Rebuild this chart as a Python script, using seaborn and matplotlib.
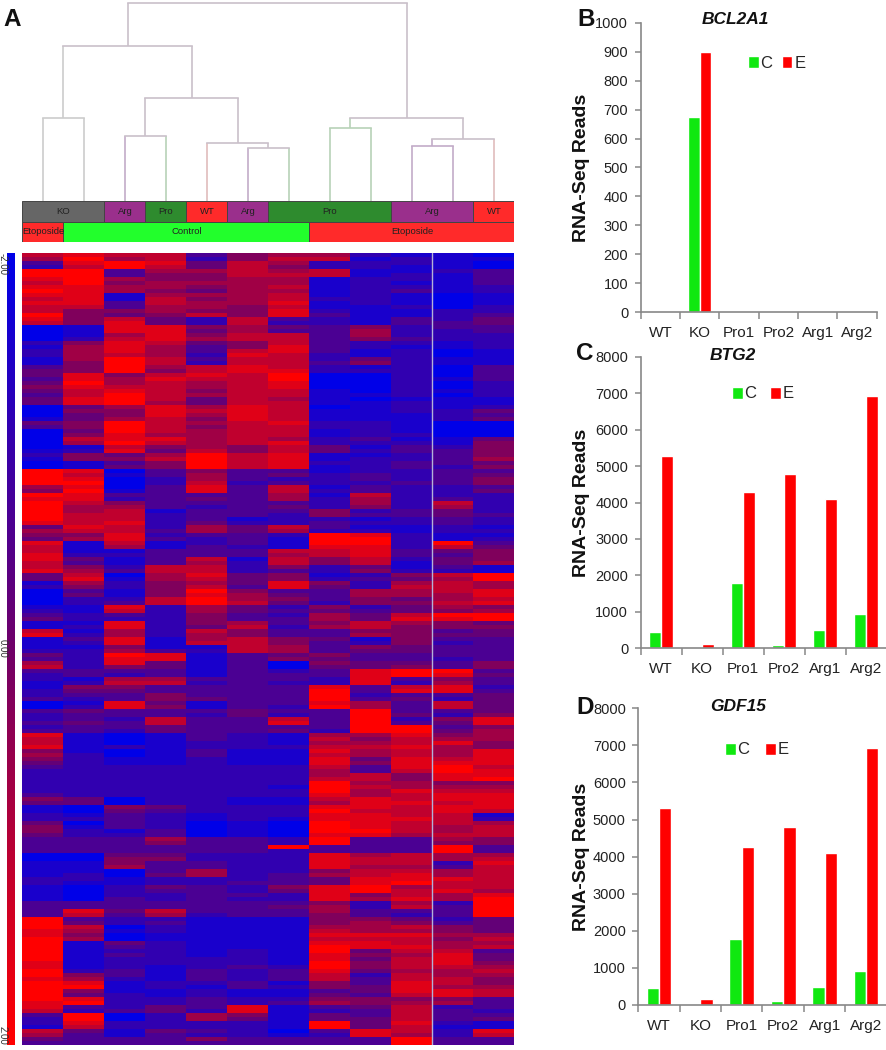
import numpy as np
import pandas as pd
import matplotlib
matplotlib.use("Agg")
import matplotlib.pyplot as plt
from matplotlib.colors import LinearSegmentedColormap
import seaborn as sns

W, H = 887, 1050
sns.set_theme(style="white")
plt.rcParams['font.family'] = ['Liberation Sans', 'DejaVu Sans']

# ---- data ----
samples = ["WT", "KO", "Pro1", "Pro2", "Arg1", "Arg2"]
bcl2a1_c = [0, 675, 0, 0, 0, 0]
bcl2a1_e = [0, 900, 0, 0, 0, 0]
btg2_c = [440, 0, 1780, 100, 510, 940]
btg2_e = [5280, 130, 4290, 4780, 4090, 6920]
gdf15_c = [470, 0, 1790, 100, 490, 930]
gdf15_e = [5300, 150, 4250, 4800, 4110, 6940]

genotype_names = ["KO", "Arg", "Pro", "WT", "Arg", "Pro", "Arg", "WT"]
genotype_spans = [2, 1, 1, 1, 1, 3, 2, 1]
treatment_names = ["Etoposide", "Control", "Etoposide"]
treatment_spans = [1, 6, 5]

# dendrogram merges: (left, right, height); ids >= 12 are earlier merges
merges = [(0, 1, 83), (2, 3, 65), (5, 6, 53), (4, 14, 58), (13, 15, 103),
          (12, 16, 155), (7, 8, 73), (9, 10, 55), (19, 11, 62), (18, 20, 83),
          (17, 21, 198)]
leaf_groups = ["KO", "KO", "Arg", "Pro", "WT", "Arg", "Pro", "Pro", "Pro", "Arg", "Arg", "WT"]

# expression levels per gene row (0 = -2.00 ... 9 = +2.00), 12 samples
heat_rows = [
    "787735662110", "696725771211", "389847622210", "279747522110", "993667671123", "993557771213",
    "896556612213", "795666612113", "886656712212", "986546612312", "881666712101", "781756722101",
    "883766812101", "773665711202", "755655821122", "954575831123", "857427321324", "758427221334",
    "018856435233", "018846336223", "016857736222", "027867735322", "258745732212", "168635832112",
    "268637831201", "267628721201", "169737724211", "159727735211", "359678721203", "459578822203",
    "485787900203", "386877900213", "496767800202", "587767800202", "478757710212", "379767711202",
    "489747610111", "489647711211", "046868701212", "055878711224", "045868711123", "146758711124",
    "459767822100", "359757722100", "049767712100", "058667712200", "078867623114", "069767822215",
    "017565741325", "128475742335", "254697811235", "155797812236", "013597822334", "014597812325",
    "980353312233", "971363423234", "980263223235", "990272322335", "680383713223", "591383723224",
    "983333617222", "882343626232", "975333326272", "966323425262", "967133352342", "977233253343",
    "977231221232", "878242232232", "487264731121", "677364622122", "558233298211", "468323199212",
    "817123199293", "716132188274", "711333778345", "822333678335", "841371757245", "731362757146",
    "752772524131", "863772325221", "470684512579", "481674523469", "162564852676", "252573842776",
    "031595336678", "041586436668", "022796535467", "023797425578", "118264252465", "217264343456",
    "323253264799", "422253364889", "118256357654", "128247267555", "716275335534", "826265336544",
    "138167541533", "128177532523", "115117635433", "226327634433",
    "429813453333", "328813543323", "628413054435", "725413044535", "333313238993", "232313338984",
    "216633328353", "127723228263", "155333383782", "244333393883", "233533392334", "323543393424",
    "018413386374", "028513296374", "343334339334", "233324239425", "232733739258", "343733839348",
    "233433339935", "332433429946", "810132166856", "710132175766", "710122166785", "812122277865",
    "510131186768", "620131176768", "521121184878", "421121185888", "322222273897", "222222263798",
    "222222267588", "222222277589", "222222296655", "222222197666", "222222296877", "322222286788",
    "540221178788", "440221168878", "105422288788", "104322297787", "213212288771", "223212188872",
    "403201098776", "513201098767", "521301099767", "422301088677", "333633293365", "333533293355",
    "333333933393", "333333233393", "004422286766", "005522287767", "115332287728", "116332286637",
    "110362257767", "120462367867", "221222348887", "211223348977", "102432589677", "102332489786",
    "102233285768", "103232286869", "333333352629", "333333462739", "384733363339", "373623353239",
    "932211155424", "942311156534", "970211166754", "861211176654", "850111188866", "960111177757",
    "914211188766", "913211198867", "912212194773", "913212185684", "912222184784", "812222195785",
    "812123295776", "923132384667", "953132372766", "862132373775", "981223153875", "991213254866",
    "951121134887", "942121143787", "982232255553", "892232365663", "832438134723", "723428123732",
    "390265143733", "290264144734", "282222194821", "172222194711", "741432038728", "631322128627",
    "433353333933", "333333333933",
]

# ---- helpers ----
def px_axes(x0, y0, x1, y1):
    return fig.add_axes([x0 / W, 1 - y1 / H, (x1 - x0) / W, (y1 - y0) / H])

fig = plt.figure(figsize=(W / 100, H / 100), dpi=100, facecolor="white")
bwr = LinearSegmentedColormap.from_list("bpr", ["#0000e8", "#700068", "#ff0000"])
matrix = np.array([[(int(c) - 4.5) / 4.5 * 2 for c in r] for r in heat_rows])

# ---- heatmap ----
HX0, HX1 = 22.5, 514.5
ax_h = px_axes(HX0, 253, HX1, 1045)
sns.heatmap(matrix, ax=ax_h, cmap=bwr, vmin=-2, vmax=2, cbar=False,
            xticklabels=False, yticklabels=False)
ax_h.axvline(9.98, color="#b4b0d8", lw=1)

# ---- colour bar ----
ax_c = px_axes(7, 253, 15, 1045)
grad = np.linspace(-2, 2, 200).reshape(-1, 1)
sns.heatmap(grad, ax=ax_c, cmap=bwr, vmin=-2, vmax=2, cbar=False,
            xticklabels=False, yticklabels=False)
for lab, ypx in zip(["-2.00", "0.00", "2.00"], [264, 648, 1035]):
    fig.text(3 / W, 1 - ypx / H, lab, rotation=-90, ha="center", va="center",
             fontsize=7, color="#333333")

# ---- annotation strips ----
ax_s = px_axes(HX0, 201, HX1, 242)
ax_s.set_xlim(0, 12)
ax_s.set_ylim(2, 0)
ax_s.axis("off")
geno_col = {"KO": "#666666", "Arg": "#9a2f8c", "Pro": "#2e8b2e", "WT": "#ff2a2a"}
treat_col = {"Etoposide": "#ff2a2a", "Control": "#22ff2c"}
pos = 0
for name, span in zip(genotype_names, genotype_spans):
    ax_s.barh(0.5, span, left=pos, height=1, color=geno_col[name],
              edgecolor="#444444", lw=0.7)
    ax_s.text(pos + span / 2, 0.5, name, ha="center", va="center",
              fontsize=6.8, color="#222222")
    pos += span
pos = 0
for name, span in zip(treatment_names, treatment_spans):
    ax_s.barh(1.5, span, left=pos, height=1, color=treat_col[name],
              edgecolor="#444444", lw=0.7)
    ax_s.text(pos + span / 2, 1.5, name, ha="center", va="center",
              fontsize=6.8, color="#222222")
    pos += span

# ---- dendrogram ----
ax_d = px_axes(HX0, 0, HX1, 201)
ax_d.set_xlim(0, 12)
ax_d.set_ylim(0, 201)
ax_d.axis("off")
line_col = {"KO": "#cccccc", "Arg": "#c2acc8", "Pro": "#b8d2b8", "WT": "#e0bcbc", "mix": "#cac0ca"}
node_x = {i: i + 0.5 for i in range(12)}
node_h = {i: 0 for i in range(12)}
node_g = {i: leaf_groups[i] for i in range(12)}
for k, (a, b, h) in enumerate(merges):
    nid = 12 + k
    xa, xb = node_x[a], node_x[b]
    ax_d.plot([xa, xa], [node_h[a], h], color=line_col[node_g[a]], lw=1.2, solid_capstyle="butt")
    ax_d.plot([xb, xb], [node_h[b], h], color=line_col[node_g[b]], lw=1.2, solid_capstyle="butt")
    g = node_g[a] if node_g[a] == node_g[b] else "mix"
    ax_d.plot([xa, xb], [h, h], color=line_col[g], lw=1.2, solid_capstyle="projecting")
    node_x[nid], node_h[nid], node_g[nid] = (xa + xb) / 2, h, g

# ---- bar panels ----
def bar_panel(box, c_vals, e_vals, ymax, step, title, title_px, leg_px, colspace):
    ax = px_axes(*box)
    df = pd.DataFrame({"sample": samples * 2,
                       "reads": list(c_vals) + list(e_vals),
                       "group": ["C"] * 6 + ["E"] * 6})
    sns.barplot(data=df, x="sample", y="reads", hue="group", ax=ax, width=0.6, gap=0,
                palette={"C": "#10e810", "E": "#ff0000"}, saturation=1, errorbar=None)
    ax.set_xlim(-0.5, 5.5)
    ax.set_ylim(0, ymax)
    ax.set_yticks(np.arange(0, ymax + 1, step))
    ax.set_xticks(np.arange(-0.5, 6, 1))
    ax.set_xticklabels([])
    ax.set_xticks(range(6), samples, minor=True)
    ax.tick_params(axis="x", which="major", length=5, width=1.1, color="#888888", bottom=True)
    ax.tick_params(axis="x", which="minor", length=0, pad=10, labelsize=11, labelcolor="#222222")
    ax.tick_params(axis="y", length=4, width=1.1, color="#888888", left=True, pad=5,
                   labelsize=10.5, labelcolor="#222222")
    for s in ["top", "right"]:
        ax.spines[s].set_visible(False)
    for s in ["left", "bottom"]:
        ax.spines[s].set_color("#888888")
        ax.spines[s].set_linewidth(1.2)
    ax.set_xlabel("")
    ax.set_ylabel("RNA-Seq Reads", fontsize=14, fontweight="bold", color="#111111")
    ax.yaxis.set_label_coords((590 - box[0]) / (box[2] - box[0]), 0.5)
    fig.text(title_px[0] / W, 1 - title_px[1] / H, title, style="italic", fontweight="bold",
             fontsize=12.5, ha="center", va="center", color="#111111")
    handles, labels = ax.get_legend_handles_labels()
    ax.legend(handles, labels, loc="center left", frameon=False, ncol=2, fontsize=12,
              handlelength=0.65, handleheight=0.7, handletextpad=0.1, columnspacing=colspace,
              bbox_to_anchor=(leg_px[0] / W, 1 - leg_px[1] / H),
              bbox_transform=fig.transFigure, borderpad=0, borderaxespad=0)
    return ax

bar_panel((640.7, 22.7, 876.7, 312.3), bcl2a1_c, bcl2a1_e, 1000, 100, "BCL2A1", (735.7, 19), (748, 63), 0.55)
bar_panel((640.7, 356.7, 886.7, 648.3), btg2_c, btg2_e, 8000, 1000, "BTG2", (732.7, 355), (732, 394), 0.8)
bar_panel((638.3, 708.3, 886.7, 1005), gdf15_c, gdf15_e, 8000, 1000, "GDF15", (737.7, 706.7), (725, 750), 0.95)

# ---- panel letters ----
for lab, x, y in [("A", 12, 20), ("B", 586, 19), ("C", 585, 353), ("D", 585, 707)]:
    fig.text(x / W, 1 - y / H, lab, fontsize=17.5, fontweight="bold", ha="center", va="center", color="#111111")

fig.savefig("out.png", dpi=100, facecolor="white")
